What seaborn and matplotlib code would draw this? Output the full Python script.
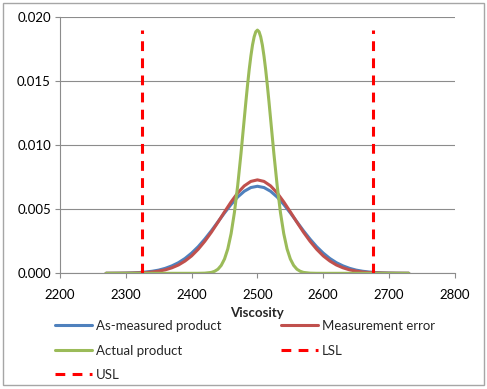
import matplotlib
matplotlib.use("Agg")
import matplotlib.pyplot as plt
import matplotlib.patches as mpatches
from matplotlib.ticker import FormatStrFormatter, MultipleLocator
import seaborn as sns

# valores
x_largo = [2270, 2280, 2290, 2300, 2310, 2320, 2330, 2340, 2350, 2360, 2370, 2380, 2390,
           2400, 2410, 2420, 2430, 2440, 2450, 2460, 2470, 2480, 2490, 2500, 2510, 2520,
           2530, 2540, 2550, 2560, 2570, 2580, 2590, 2600, 2610, 2620, 2630, 2640, 2650,
           2660, 2670, 2680, 2690, 2700, 2710, 2720, 2730]

medido = [0.000003, 0.000006, 0.000011, 0.00002, 0.000035, 0.00006, 0.0001, 0.00016,
          0.00025, 0.00039, 0.00058, 0.00083, 0.00116, 0.00158, 0.00208, 0.00267,
          0.00332, 0.00402, 0.00472, 0.00538, 0.00596, 0.00641, 0.0067, 0.0068,
          0.0067, 0.00641, 0.00596, 0.00538, 0.00472, 0.00402, 0.00332, 0.00267,
          0.00208, 0.00158, 0.00116, 0.00083, 0.00058, 0.00039, 0.00025, 0.00016,
          0.0001, 0.00006, 0.000035, 0.00002, 0.000011, 0.000006, 0.000003]

erro_medicao = [0.000001, 0.000002, 0.000005, 0.000009, 0.000017, 0.000032, 0.000057, 0.0001,
                0.00017, 0.00027, 0.00043, 0.00065, 0.00096, 0.00136, 0.00188, 0.0025,
                0.00321, 0.00399, 0.0048, 0.00558, 0.00628, 0.00683, 0.00718, 0.0073,
                0.00718, 0.00683, 0.00628, 0.00558, 0.0048, 0.00399, 0.00321, 0.0025,
                0.00188, 0.00136, 0.00096, 0.00065, 0.00043, 0.00027, 0.00017, 0.0001,
                0.000057, 0.000032, 0.000017, 0.000009, 0.000005, 0.000002, 0.000001]

x_real = [2270, 2300, 2350, 2400, 2410, 2420, 2430, 2435, 2440, 2445, 2450, 2455, 2460,
          2465, 2470, 2475, 2480, 2482.5, 2485, 2487.5, 2490, 2492.5, 2495, 2497.5, 2500,
          2502.5, 2505, 2507.5, 2510, 2512.5, 2515, 2517.5, 2520, 2525,
          2530, 2535, 2540, 2545, 2550, 2555, 2560, 2565, 2570, 2580, 2590, 2600, 2650,
          2700, 2730]
produto_real = [0, 0, 0, 0, 0.000001, 0.000013, 0.00007, 0.00016, 0.00032, 0.00062,
                0.00112, 0.00191, 0.0031, 0.00474, 0.00685, 0.00935, 0.01207, 0.01343,
                0.01472, 0.01592, 0.01696, 0.01783, 0.01847, 0.01887,
                0.019,
                0.01887, 0.01847, 0.01783, 0.01696, 0.01592, 0.01472, 0.01343, 0.01207,
                0.00935, 0.00685, 0.00474, 0.0031, 0.00191, 0.00112, 0.00062, 0.00032,
                0.00016, 0.00007, 0.000013, 0.000001, 0, 0, 0, 0]

lsl = 2325
usl = 2675
topo_spec = [0, 0.019]

sns.set_style("white")
plt.rcParams["font.family"] = ["Lato", "DejaVu Sans"]

fig = plt.figure(figsize=(4.87, 3.89), dpi=100)
ax = fig.add_axes([0.1232, 0.2974, 0.8108, 0.6581])

sns.lineplot(x=x_largo, y=medido, color="#4F81BD", linewidth=2.2, ax=ax, label="As-measured product")
sns.lineplot(x=x_largo, y=erro_medicao, color="#C0504D", linewidth=2.2, ax=ax, label="Measurement error")
sns.lineplot(x=x_real, y=produto_real, color="#9BBB59", linewidth=2.2, ax=ax, label="Actual product")
l1, = ax.plot([lsl, lsl], topo_spec, color="#FF0000", linewidth=2.2, dashes=(3.2, 2.4), label="LSL")
l2, = ax.plot([usl, usl], topo_spec, color="#FF0000", linewidth=2.2, dashes=(3.2, 2.4), label="USL")

ax.set_xlim(2200, 2800)
ax.set_ylim(0, 0.02)
ax.xaxis.set_major_locator(MultipleLocator(100))
ax.yaxis.set_major_locator(MultipleLocator(0.005))
ax.yaxis.set_major_formatter(FormatStrFormatter("%.3f"))
ax.grid(axis="y", color="#8C8C8C", linewidth=0.8)
ax.set_axisbelow(True)

for s in ["top", "right"]:
    ax.spines[s].set_visible(False)
for s in ["left", "bottom"]:
    ax.spines[s].set_color("#8C8C8C")
    ax.spines[s].set_linewidth(0.8)
ax.tick_params(axis="both", direction="out", length=3.5, width=0.8, color="#8C8C8C",
               labelsize=9.5, labelcolor="black", pad=3)
ax.tick_params(axis="x", bottom=True, pad=8)
ax.tick_params(axis="y", left=True)

ax.set_xlabel("Viscosity", fontsize=9.5, fontweight="bold", labelpad=4)
ax.set_ylabel("")

# legenda em linhas, como no original
h, lab = ax.get_legend_handles_labels()
ordem = [0, 2, 4, 1, 3]
ax.legend_.remove()
fig.legend([h[i] for i in ordem], [lab[i] for i in ordem], ncol=2, loc="upper left",
           bbox_to_anchor=(55 / 487, 1 - 320 / 389), bbox_transform=fig.transFigure,
           frameon=False, fontsize=9.5, handlelength=2.8, handletextpad=0.3,
           columnspacing=4.5, labelspacing=0.95, borderpad=0, borderaxespad=0)

fig.patches.append(mpatches.Rectangle((3 / 487, 4 / 389), 481 / 487, 382 / 389,
                                      transform=fig.transFigure, fill=False,
                                      edgecolor="#A6A6A6", linewidth=1))

fig.savefig("out.png", dpi=100)
